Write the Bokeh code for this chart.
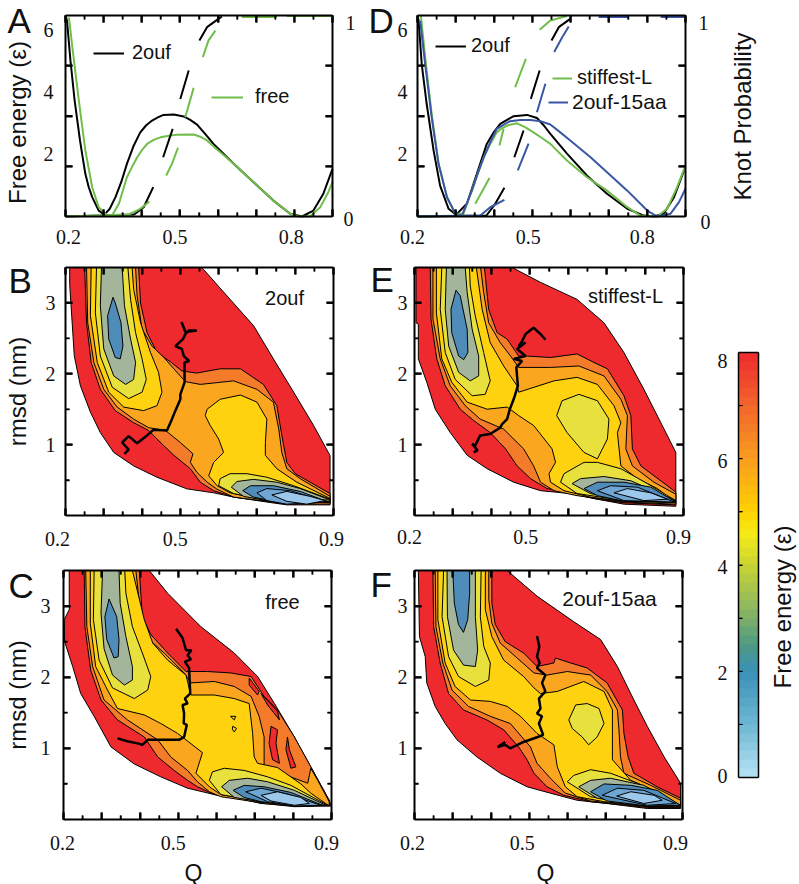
import math
import numpy as np
from bokeh.plotting import figure
from bokeh.models import (Range1d, LinearAxis, FixedTicker, Label, Legend, LegendItem,
                          LinearColorMapper)
from bokeh.layouts import row, column
from bokeh.embed import file_html
from bokeh.resources import INLINE

nan = float("nan")

# ---------- one-dimensional free energy profiles (Q, free energy) ----------
A_2ouf = [(.2,6.45),(.204,6.28),(.213,5.0),(.224,3.72),(.238,2.44),(.245,1.9),(.252,1.37),(.261,.94),(.27,.62),(.287,.19),(.302,.06),(.316,.25),(.331,.62),(.346,1.1),(.361,1.69),(.379,2.28),(.396,2.7),(.411,2.92),(.427,3.08),(.442,3.18),(.457,3.26),(.484,3.27),(.51,3.21),(.527,3.1),(.545,2.95),(.566,2.65),(.588,2.33),(.641,1.69),(.693,1.1),(.745,.51),(.789,.09),(.82,0),(.85,.19),(.876,.73),(.9,1.53)]
A_free = [(.209,6.39),(.217,5.53),(.235,3.72),(.252,2.12),(.27,.94),(.287,.3),(.309,.03),(.322,.03),(.34,.41),(.361,1.26),(.375,1.6),(.388,1.9),(.401,2.14),(.414,2.33),(.431,2.46),(.449,2.54),(.475,2.6),(.492,2.62),(.536,2.63),(.553,2.56),(.571,2.44),(.588,2.25),(.606,2.06),(.641,1.69),(.693,1.1),(.745,.51),(.789,.09),(.811,0),(.841,0),(.868,.3),(.889,.78),(.9,1.1)]
D_2ouf = [(.2,6.44),(.203,6.28),(.211,4.89),(.224,3.61),(.242,2.12),(.259,.99),(.281,.25),(.301,.06),(.329,.41),(.355,1.37),(.368,1.85),(.381,2.33),(.399,2.7),(.416,2.97),(.434,3.1),(.451,3.22),(.486,3.26),(.512,3.16),(.53,2.92),(.547,2.65),(.569,2.33),(.591,2.01),(.643,1.31),(.695,.73),(.748,.25),(.791,.03),(.817,0),(.843,.09),(.87,.62),(.896,1.47)]
D_stiff = [(.209,6.44),(.22,5.11),(.237,3.29),(.255,1.69),(.277,.62),(.299,.09),(.32,.09),(.342,.83),(.357,1.37),(.373,1.9),(.39,2.33),(.407,2.7),(.42,2.83),(.434,2.92),(.46,2.99),(.482,2.86),(.503,2.7),(.525,2.52),(.547,2.33),(.591,1.79),(.643,1.26),(.695,.83),(.748,.3),(.782,.03),(.826,0),(.852,.25),(.878,.94),(.9,1.63)]
D_15aa = [(.207,6.28),(.22,4.89),(.237,3.18),(.255,1.69),(.277,.62),(.299,.09),(.316,.03),(.342,.83),(.357,1.37),(.373,1.9),(.39,2.38),(.407,2.81),(.425,2.95),(.442,3.06),(.468,3.1),(.495,3.1),(.521,3.06),(.547,2.95),(.573,2.7),(.599,2.44),(.652,1.9),(.695,1.42),(.748,.83),(.8,.19),(.826,0),(.861,.09),(.883,.46),(.9,.89)]

# ---------- knot probability (Q, probability); nan marks the gaps of the dashes ----------
A_knot_2ouf = [(.2,0),(.38,.01),(.405,.046),(.43,.146),(nan,nan),(.456,.295),(.481,.436),(nan,nan),(.501,.585),(.523,.726),(nan,nan),(.551,.876),(.571,.942),(.601,.983),(.61,.995)]
A_knot_free = [(.2,0),(.366,.01),(.396,.038),(.42,.075),(nan,nan),(.464,.204),(.479,.262),(.495,.342),(nan,nan),(.514,.494),(.536,.64),(nan,nan),(.56,.793),(.575,.876),(.593,.925),(nan,nan),(.662,.992),(.754,.992),(nan,nan),(.78,.997),(.9,.997)]
D_knot_2ouf = [(.2,0),(.38,.005),(.403,.063),(.427,.143),(nan,nan),(.453,.295),(.477,.428),(nan,nan),(.496,.585),(.519,.726),(nan,nan),(.55,.876),(.569,.942),(.599,.983)]
D_knot_stiff = [(.2,0),(.32,.005),(nan,nan),(.351,.063),(.388,.192),(nan,nan),(.414,.353),(.425,.436),(nan,nan),(.455,.643),(.483,.784),(nan,nan),(.519,.929),(.547,.975),(.59,.997)]
D_knot_15aa = [(.2,0),(.364,.005),(.39,.046),(.427,.083),(nan,nan),(.462,.229),(.49,.362),(nan,nan),(.512,.519),(.534,.66),(nan,nan),(.557,.818),(.578,.892),(.595,.945),(nan,nan),(.673,.992),(.752,.992),(nan,nan),(.835,.992),(.9,.992)]

# ---------- free energy contours (Q, rmsd), outermost level first ----------
B_L1 = [(.211,3.5),(.211,3.26),(.223,2.25),(.239,1.83),(.265,1.46),(.291,1.17),(.326,.89),(.378,.7),(.439,.54),(.517,.376),(.587,.32),(.639,.26),(.726,.19),(.778,.15),(.891,.15),(.891,.845),(.848,1.27),(.796,1.74),(.743,2.21),(.691,2.68),(.63,3.05),(.561,3.47),(.555,3.5)]
B_L2 = [(.25,3.5),(.255,2.72),(.267,2.16),(.291,1.78),(.33,1.48),(.378,1.31),(.417,1.2),(.452,1.01),(.483,.85),(.526,.66),(.552,.47),(.587,.35),(.639,.26),(.726,.2),(.778,.16),(.891,.16),(.891,.31),(.839,.47),(.8,.59),(.778,.75),(.765,1.13),(.752,1.55),(.717,1.85),(.657,2.07),(.604,2.07),(.543,2.01),(.504,2.04),(.474,2.17),(.439,2.3),(.413,2.58),(.396,3.0),(.391,3.5)]
B_L3 = [(.255,3.5),(.258,2.72),(.274,2.16),(.3,1.78),(.335,1.53),(.378,1.36),(.417,1.24),(.461,1.2),(.5,1.03),(.533,.87),(.526,.75),(.543,.61),(.57,.47),(.596,.37),(.639,.26),(.726,.2),(.891,.18),(.891,.27),(.813,.52),(.778,.66),(.765,.89),(.757,1.22),(.743,1.6),(.7,1.78),(.639,1.9),(.552,1.85),(.513,1.89),(.483,2.07),(.457,2.23),(.426,2.39),(.4,2.63),(.387,3.1),(.383,3.5)]
B_L4a = [(.267,3.5),(.265,2.82),(.283,2.16),(.313,1.74),(.352,1.53),(.404,1.48),(.439,1.55),(.452,1.74),(.443,2.02),(.422,2.3),(.396,2.72),(.378,3.19),(.374,3.5)]
B_L4b = [(.57,1.5),(.604,1.64),(.657,1.7),(.7,1.6),(.726,1.36),(.722,1.03),(.722,.85),(.752,.66),(.804,.47),(.891,.24),(.891,.19),(.726,.21),(.63,.32),(.596,.42),(.574,.56),(.587,.75),(.613,.89),(.6,1.08),(.578,1.27),(.565,1.41)]
B_L5a = [(.281,3.5),(.278,2.86),(.291,2.25),(.322,1.81),(.365,1.65),(.4,1.74),(.411,1.92),(.4,2.21),(.383,2.58),(.37,3.05),(.363,3.5)]
B_L5b = [(.6,.42),(.604,.52),(.63,.59),(.674,.59),(.726,.54),(.796,.42),(.891,.23),(.891,.2),(.726,.21),(.639,.31)]
B_L6a = [(.294,3.5),(.291,2.96),(.3,2.35),(.326,1.97),(.357,1.85),(.378,1.92),(.383,2.16),(.37,2.49),(.354,2.96),(.348,3.5)]
B_L6b = [(.633,.4),(.648,.48),(.691,.51),(.752,.47),(.813,.38),(.891,.22),(.726,.21),(.665,.27)]
B_L7a = [(.324,3.08),(.31,2.82),(.313,2.49),(.33,2.23),(.343,2.21),(.35,2.39),(.345,2.72),(.33,3.0)]
B_L7b = [(.663,.35),(.683,.42),(.743,.42),(.813,.34),(.887,.19),(.778,.16),(.691,.26)]
B_L8 = [(.7,.32),(.726,.38),(.787,.35),(.883,.19),(.778,.16),(.726,.21)]
B_L9 = [(.739,.29),(.778,.34),(.839,.27),(.878,.21),(.83,.16),(.778,.2)]
B_path = [(.503,2.73),(.509,2.65),(.513,2.59),(.543,2.61),(.522,2.61),(.513,2.56),(.507,2.49),(.487,2.39),(.504,2.35),(.509,2.25),(.523,2.18),(.511,2.16),(.511,1.88),(.5,1.71),(.5,1.64),(.487,1.48),(.478,1.36),(.465,1.2),(.43,1.21),(.413,1.13),(.387,1.02),(.365,1.12),(.348,1.03),(.365,.93),(.354,.87)]

C_L1 = [(.215,3.5),(.215,2.95),(.202,2.81),(.203,2.5),(.224,2.15),(.245,1.77),(.28,1.45),(.324,1.02),(.385,.78),(.454,.6),(.524,.44),(.594,.35),(.646,.31),(.716,.23),(.803,.18),(.899,.19),(.894,.27),(.846,.74),(.803,1.16),(.751,1.63),(.707,2.01),(.646,2.34),(.559,2.71),(.472,3.18),(.424,3.5)]
C_L2 = [(.254,3.5),(.256,2.71),(.271,2.1),(.298,1.68),(.341,1.4),(.411,1.16),(.446,.88),(.489,.69),(.524,.55),(.55,.46),(.594,.35),(.646,.31),(.716,.225),(.803,.19),(.894,.2),(.894,.27),(.846,.74),(.803,1.16),(.759,1.54),(.724,1.73),(.69,2.01),(.637,2.06),(.576,2.08),(.52,2.08),(.472,2.34),(.428,2.6),(.406,2.85),(.398,3.5)]
C_L3 = [(.258,3.5),(.261,2.71),(.276,2.15),(.306,1.68),(.367,1.4),(.446,1.12),(.48,.88),(.524,.69),(.55,.53),(.581,.39),(.611,.32),(.716,.235),(.894,.2),(.894,.25),(.864,.55),(.846,.72),(.838,.51),(.768,.65),(.724,.74),(.724,1.16),(.711,1.45),(.69,1.73),(.646,1.87),(.594,1.94),(.533,1.92),(.515,2.06),(.463,2.34),(.424,2.53),(.402,2.85),(.389,3.5)]
C_L4 = [(.27,3.5),(.27,2.76),(.284,2.15),(.315,1.82),(.341,1.56),(.411,1.47),(.454,1.35),(.498,1.21),(.515,1.14),(.563,.94),(.546,.65),(.581,.46),(.611,.35),(.716,.25),(.894,.19),(.846,.37),(.82,.5),(.759,.73),(.707,.79),(.698,.88),(.694,1.21),(.685,1.63),(.646,1.7),(.594,1.75),(.533,1.75),(.528,1.85),(.52,2.03),(.472,2.24),(.433,2.48),(.411,2.81),(.38,3.5)]
C_L5a = [(.28,3.5),(.278,2.81),(.293,2.24),(.328,1.85),(.385,1.7),(.42,1.82),(.428,2.01),(.406,2.34),(.38,2.71),(.363,3.18),(.36,3.5)]
C_L5b = [(.581,.55),(.589,.67),(.62,.72),(.672,.69),(.733,.6),(.794,.48),(.89,.2),(.716,.25),(.611,.35)]
C_L6a = [(.302,3.5),(.298,2.9),(.306,2.4),(.328,2.03),(.359,1.89),(.38,1.96),(.38,2.15),(.363,2.57),(.348,3.04),(.345,3.5)]
C_L6b = [(.613,.46),(.633,.55),(.681,.58),(.733,.53),(.803,.41),(.886,.2),(.716,.25),(.646,.31)]
C_L7a = [(.319,3.1),(.308,2.85),(.313,2.53),(.332,2.27),(.343,2.29),(.345,2.53),(.339,2.85)]
C_L7b = [(.643,.41),(.672,.48),(.724,.46),(.794,.38),(.877,.2),(.803,.19),(.716,.25),(.672,.31)]
C_L8 = [(.676,.39),(.716,.44),(.785,.36),(.872,.2),(.803,.19),(.733,.25)]
C_L9 = [(.716,.34),(.759,.39),(.82,.31),(.842,.225),(.803,.2),(.742,.26)]
C_high1 = [(.685,1.99),(.711,1.8),(.707,1.75),(.685,1.89)]
C_high2 = [(.716,1.77),(.759,1.52),(.764,1.4),(.733,1.61)]
C_high3 = [(.742,1.31),(.759,1.26),(.755,1.07),(.764,.79),(.746,.84),(.737,1.07)]
C_high4 = [(.785,1.16),(.79,.98),(.807,.74),(.794,.72),(.781,.98)]
C_spot1 = [(.636,1.45),(.65,1.45),(.646,1.4)]
C_spot2 = [(.642,1.31),(.652,1.28),(.646,1.23),(.641,1.27)]
C_path = [(.494,2.68),(.511,2.55),(.52,2.38),(.534,2.38),(.524,2.31),(.533,2.25),(.517,2.22),(.528,2.13),(.531,1.77),(.517,1.7),(.524,1.63),(.511,1.61),(.515,1.49),(.514,1.35),(.522,1.33),(.515,1.16),(.502,1.12),(.42,1.12),(.406,1.05),(.393,1.07),(.367,1.1),(.341,1.14)]

E_L1 = [(.204,3.5),(.204,2.72),(.21,2.7),(.21,2.21),(.232,1.88),(.254,1.5),(.293,1.17),(.337,.85),(.389,.66),(.458,.47),(.528,.35),(.606,.31),(.676,.23),(.745,.16),(.88,.13),(.88,.89),(.841,1.31),(.797,1.78),(.745,2.3),(.693,2.72),(.623,3.05),(.528,3.29),(.454,3.5)]
E_L2 = [(.241,3.5),(.243,2.77),(.258,2.21),(.28,1.83),(.319,1.5),(.354,1.34),(.397,1.17),(.437,.94),(.467,.7),(.502,.52),(.545,.38),(.606,.31),(.676,.23),(.745,.18),(.88,.15),(.88,.33),(.789,.7),(.767,.94),(.763,1.41),(.745,1.69),(.702,2.07),(.667,2.16),(.623,2.28),(.554,2.23),(.493,2.25),(.471,2.25),(.441,2.49),(.415,2.58),(.393,2.91),(.382,3.5)]
E_L3 = [(.248,3.5),(.248,2.77),(.267,2.21),(.293,1.83),(.332,1.55),(.371,1.36),(.432,1.22),(.484,.94),(.51,.7),(.528,.47),(.563,.35),(.623,.28),(.745,.19),(.88,.16),(.88,.3),(.823,.47),(.767,.7),(.75,.94),(.754,1.41),(.737,1.64),(.693,1.97),(.628,2.11),(.554,2.09),(.471,2.09),(.45,2.25),(.423,2.44),(.393,2.72),(.38,3.15),(.372,3.5)]
E_L4 = [(.257,3.5),(.257,2.86),(.271,2.21),(.297,1.88),(.337,1.6),(.389,1.5),(.441,1.53),(.471,1.41),(.51,1.27),(.558,.94),(.567,.75),(.55,.59),(.554,.47),(.589,.35),(.658,.26),(.745,.2),(.88,.18),(.832,.38),(.78,.52),(.737,.7),(.728,1.17),(.737,1.31),(.719,1.55),(.676,1.85),(.623,1.95),(.563,1.9),(.471,1.74),(.467,1.83),(.432,2.11),(.397,2.44),(.376,2.91),(.361,3.5)]
E_L5a = [(.271,3.5),(.267,2.91),(.28,2.3),(.306,1.92),(.35,1.69),(.384,1.71),(.397,1.9),(.38,2.3),(.358,2.82),(.345,3.24),(.343,3.5)]
E_L5b = [(.57,1.41),(.584,1.62),(.628,1.71),(.676,1.62),(.706,1.36),(.702,1.08),(.676,.8),(.641,.89),(.597,1.17)]
E_L5c = [(.58,.47),(.589,.59),(.641,.75),(.676,.75),(.737,.66),(.806,.45),(.88,.21),(.745,.21),(.623,.31)]
E_L6a = [(.283,3.5),(.28,2.91),(.289,2.39),(.315,2.02),(.345,1.9),(.367,1.97),(.367,2.25),(.35,2.63),(.337,3.15),(.332,3.5)]
E_L6b = [(.61,.45),(.632,.52),(.693,.55),(.763,.49),(.88,.21),(.745,.21),(.658,.31)]
E_L7a = [(.308,3.18),(.295,2.91),(.297,2.58),(.315,2.25),(.328,2.2),(.339,2.3),(.337,2.63),(.319,3.1)]
E_L7b = [(.641,.38),(.676,.47),(.745,.47),(.815,.4),(.88,.19),(.745,.2),(.676,.28)]
E_L8 = [(.676,.35),(.71,.42),(.78,.4),(.876,.19),(.745,.21)]
E_L9 = [(.719,.32),(.754,.38),(.815,.32),(.858,.23),(.797,.21)]
E_path = [(.541,2.48),(.528,2.56),(.51,2.65),(.489,2.56),(.48,2.46),(.471,2.39),(.489,2.44),(.467,2.35),(.489,2.25),(.458,2.21),(.48,2.18),(.465,2.09),(.469,1.83),(.458,1.64),(.448,1.5),(.441,1.36),(.428,1.29),(.423,1.24),(.397,1.15),(.371,1.13),(.358,.99),(.35,1.01),(.364,.92),(.354,.89)]

F_L1 = [(.21,3.5),(.213,2.57),(.228,2.29),(.232,1.92),(.254,1.59),(.28,1.35),(.311,1.12),(.363,.88),(.424,.65),(.494,.46),(.555,.37),(.625,.27),(.695,.23),(.808,.155),(.895,.155),(.895,.51),(.852,.88),(.808,1.31),(.773,1.68),(.73,2.15),(.686,2.53),(.616,2.78),(.52,3.14),(.442,3.5)]
F_L2 = [(.248,3.5),(.25,2.71),(.267,2.2),(.289,1.77),(.328,1.54),(.389,1.4),(.433,1.26),(.472,1.02),(.494,.84),(.512,.65),(.546,.46),(.59,.34),(.66,.25),(.808,.17),(.895,.17),(.895,.3),(.834,.46),(.773,.65),(.758,.88),(.747,1.21),(.743,1.54),(.703,1.92),(.651,2.13),(.608,2.2),(.568,2.27),(.564,2.2),(.52,2.15),(.485,2.34),(.437,2.5),(.411,2.74),(.402,3.04),(.402,3.5)]
F_L3 = [(.254,3.5),(.256,2.71),(.274,2.2),(.298,1.82),(.341,1.59),(.398,1.45),(.45,1.35),(.503,1.02),(.52,.79),(.555,.58),(.594,.37),(.66,.26),(.808,.18),(.895,.18),(.895,.27),(.817,.48),(.747,.65),(.738,.88),(.734,1.26),(.73,1.54),(.703,1.8),(.66,2.03),(.599,2.08),(.546,2.03),(.512,2.06),(.468,2.27),(.424,2.48),(.402,2.76),(.394,3.09),(.394,3.5)]
F_L4 = [(.261,3.5),(.261,2.81),(.28,2.2),(.306,1.87),(.346,1.68),(.398,1.66),(.442,1.59),(.477,1.45),(.52,1.21),(.564,1.05),(.573,.74),(.594,.46),(.625,.32),(.695,.25),(.808,.19),(.895,.19),(.834,.39),(.765,.55),(.717,.84),(.717,1.26),(.717,1.54),(.695,1.8),(.642,1.94),(.573,1.8),(.529,1.77),(.512,1.85),(.485,2.01),(.433,2.24),(.402,2.57),(.385,2.95),(.385,3.5)]
F_L5a = [(.276,3.5),(.272,2.85),(.289,2.29),(.315,2.01),(.359,1.87),(.394,1.96),(.398,2.2),(.381,2.43),(.372,2.85),(.374,3.5)]
F_L5b = [(.603,1.4),(.621,1.61),(.651,1.63),(.682,1.56),(.695,1.35),(.677,1.16),(.655,1.05),(.638,1.16),(.612,1.28)]
F_L5c = [(.599,.53),(.616,.62),(.66,.7),(.712,.65),(.782,.51),(.895,.2),(.808,.19),(.66,.32)]
F_L6a = [(.285,3.5),(.286,2.85),(.302,2.38),(.328,2.17),(.359,2.15),(.365,2.38),(.359,2.85),(.359,3.5)]
F_L6b = [(.629,.46),(.66,.55),(.712,.58),(.799,.48),(.895,.2),(.808,.19),(.677,.3)]
F_L7a = [(.3,3.5),(.304,3.04),(.315,2.74),(.328,2.63),(.339,2.81),(.344,3.18),(.344,3.5)]
F_L7b = [(.66,.39),(.695,.5),(.765,.48),(.834,.41),(.894,.2),(.808,.19),(.703,.26)]
F_L8 = [(.69,.34),(.73,.44),(.799,.41),(.882,.225),(.808,.2)]
F_L9 = [(.728,.33),(.765,.39),(.826,.34),(.847,.27),(.799,.225)]
F_path = [(.52,2.58),(.526,2.43),(.52,2.29),(.527,2.2),(.52,2.13),(.542,2.03),(.533,1.92),(.542,1.8),(.525,1.7),(.529,1.56),(.52,1.49),(.533,1.45),(.525,1.35),(.536,1.19),(.522,1.16),(.485,1.09),(.45,1.0),(.437,1.05),(.417,1.02),(.437,1.09)]

# ---------- colours ----------
BLACK = "#000000"; GREEN = "#6FBE4A"; BLUE = "#3A57A5"
L1 = "#EE2A2E"; L2 = "#F47B2A"; L3 = "#FAA61E"; L4 = "#FFD20F"; L5 = "#E8E03C"
L6 = "#A3B69B"; L7 = "#4F8CB9"; L8 = "#6FA6D4"; L9 = "#9CC8EC"
BAR_STOPS = [(0,"#B6E3F4"),(1,"#6DB7D2"),(2,"#3A90B8"),(2.5,"#4E9A82"),(3,"#7FB069"),(4,"#C9D433"),
             (4.6,"#F6EB16"),(5,"#FFD200"),(6,"#F99D1F"),(7,"#F2652B"),(8,"#EE2A2E")]

SERIF = "Liberation Serif"; SANS = "Liberation Sans"
QT_MAJOR = [.2,.3,.4,.5,.6,.7,.8,.9]
QT_MINOR = [.25,.35,.45,.55,.65,.75,.85]


def widen(lo, hi, before, inner, after):
    """Range that shows [lo, hi] across `inner` pixels with margins of `before`/`after` pixels."""
    unit = (hi - lo) / inner
    return Range1d(lo - before * unit, hi + after * unit)


def inward(p, side, at, values, length, width, y_range_name=None):
    """Inner tick marks along one panel edge, with their length given in pixels."""
    vals = list(values)
    if not vals:
        return
    xu = (p.x_range.end - p.x_range.start) / p.width
    yu = (p.y_range.end - p.y_range.start) / p.height
    kw = {"y_range_name": y_range_name} if y_range_name else {}
    if side in ("left", "right"):
        sign = 1 if side == "left" else -1
        p.segment(x0=[at] * len(vals), y0=vals, x1=[at + sign * length * xu] * len(vals), y1=vals,
                  line_color=BLACK, line_width=width, **kw)
    else:
        sign = 1 if side == "below" else -1
        p.segment(x0=vals, y0=[at] * len(vals), x1=vals, y1=[at + sign * length * yu] * len(vals),
                  line_color=BLACK, line_width=width)


def edge(p, side, at, bounds, ticker, y_range_name=None, rule=2, major=(7, 2), minor=(4, 1.5)):
    """An axis pinned to one edge of the panel; it takes no layout space."""
    kw = {"y_range_name": y_range_name} if y_range_name else {}
    ax = LinearAxis(fixed_location=at, bounds=bounds, ticker=ticker, **kw)
    ax.axis_line_width = rule; ax.axis_line_color = BLACK
    ax.major_tick_line_color = BLACK; ax.minor_tick_line_color = BLACK
    ax.major_tick_line_width = major[1]; ax.minor_tick_line_width = minor[1]
    ax.major_tick_in = major[0]; ax.major_tick_out = 0
    ax.minor_tick_in = minor[0]; ax.minor_tick_out = 0
    ax.major_label_text_font_size = "0px"; ax.major_label_standoff = 0
    ax.major_label_text_color = None
    p.add_layout(ax, side)
    inward(p, side, at, ticker.ticks, major[0], major[1], y_range_name)
    inward(p, side, at, ticker.minor_ticks, minor[0], minor[1], y_range_name)
    return ax


def base(w, h, left, right, top, bottom, xr, yr):
    p = figure(width=w, height=h, min_border_left=0, min_border_right=0,
               min_border_top=0, min_border_bottom=0,
               x_range=widen(xr[0], xr[1], left, w - left - right, right),
               y_range=widen(yr[0], yr[1], bottom, h - top - bottom, top),
               x_axis_location=None, y_axis_location=None,
               toolbar_location=None, output_backend="svg", tools="")
    p.grid.visible = False
    p.outline_line_color = None
    p.background_fill_color = "white"; p.border_fill_color = "white"
    return p


def note(p, text, x, y, dx=0, dy=0, size=20, font=SANS, align="center", baseline="middle", angle=0):
    p.add_layout(Label(x=x, y=y, x_offset=dx, y_offset=dy, text=text, text_font=font,
                       text_font_size=f"{size}px", text_align=align, text_baseline=baseline,
                       angle=angle, text_color="#111111"))


def x_frame(p, yr, labels):
    ticker = FixedTicker(ticks=QT_MAJOR, minor_ticks=QT_MINOR)
    edge(p, "below", yr[0], (.2, .9), ticker)
    edge(p, "above", yr[1], (.2, .9), ticker)
    for q, dx, dy in labels:
        note(p, f"{q:.1f}", q, yr[0], dx=dx, dy=dy, font=SERIF)


def y_text(p, ticks, gap):
    for t in ticks:
        note(p, str(t), .2, t, dx=-gap, font=SERIF, align="right")


def line(p, pts, color, width=2, **kw):
    return p.line([a for a, _ in pts], [b for _, b in pts], line_color=color, line_width=width, **kw)


def profile(w, left, right, curves, knots, xlabels, gap, legends):
    top, bottom, h = 15, 34, 250
    yr = (0, 6.45)
    p = base(w, h, left, right, top, bottom, (.2, .9), yr)
    p.extra_y_ranges = {"prob": widen(0, 1, bottom, h - top - bottom, top)}
    rend = [line(p, c, col) for c, col in curves]
    for k, col in knots:
        line(p, k, col, y_range_name="prob")
    ticks = FixedTicker(ticks=[.25, .5, .75], minor_ticks=[])
    edge(p, "left", .2, (0, 1), ticks, "prob")
    edge(p, "right", .9, (0, 1), ticks, "prob")
    x_frame(p, yr, xlabels)
    y_text(p, [2, 4, 6], gap)
    for r, (lab, loc, gw, st, fs) in zip(rend, legends):
        p.add_layout(Legend(items=[LegendItem(label=lab, renderers=[r])],
                            location=(loc[0] + left, loc[1] + bottom),
                            background_fill_alpha=0, border_line_color=None, padding=0, margin=0,
                            spacing=0, glyph_width=gw, glyph_height=20, label_standoff=st,
                            label_text_font=SANS, label_text_font_size=f"{fs}px",
                            label_text_color="#111111"))
    return p


def landscape(w, h, left, right, top, bottom, polygons, path, xlabels, gap):
    yr = (0, 3.5)
    p = base(w, h, left, right, top, bottom, (.2, .9), yr)
    p.patches([[a for a, _ in pg] for pg, _ in polygons], [[b for _, b in pg] for pg, _ in polygons],
              fill_color=[c for _, c in polygons], line_color=BLACK, line_width=1)
    line(p, path, BLACK, width=2.5)
    ticks = FixedTicker(ticks=[1, 2, 3], minor_ticks=[.5, 1.5, 2.5])
    edge(p, "left", .2, yr, ticks)
    edge(p, "right", .9, yr, ticks)
    x_frame(p, yr, xlabels)
    y_text(p, [1, 2, 3], gap)
    return p


# ---------- panels ----------
pA = profile(360, 65, 28, [(A_2ouf, BLACK), (A_free, GREEN)],
             [(A_knot_2ouf, BLACK), (A_knot_free, GREEN)],
             [(.2, 3, -20), (.5, -5, -20), (.8, -3, -20)], 12,
             [("2ouf", (28, 152), 31, 8, 20), ("free", (146, 108), 32, 12, 20)])
pD = profile(431, 57, 106, [(D_2ouf, BLACK), (D_stiff, GREEN), (D_15aa, BLUE)],
             [(D_knot_2ouf, BLACK), (D_knot_stiff, GREEN), (D_knot_15aa, BLUE)],
             [(.2, -5, -20), (.5, -4, -20), (.8, -5, -20)], 10,
             [("2ouf", (18, 159), 31, 5, 20), ("stiffest-L", (135, 127), 20, 5, 20),
              ("2ouf-15aa", (131, 102), 20, 4, 21)])

pB = landscape(360, 305, 65, 27, 17, 40,
               [(B_L1, L1), (B_L2, L2), (B_L3, L3), (B_L4a, L4), (B_L4b, L4), (B_L5a, L5), (B_L5b, L5),
                (B_L6a, L6), (B_L6b, L6), (B_L7a, L7), (B_L7b, L7), (B_L8, L8), (B_L9, L9)],
               B_path, [(.2, -8, -23), (.5, -5, -23), (.9, -2, -23)], 10)
pC = landscape(360, 329, 63, 29, 15, 65,
               [(C_L1, L1), (C_L2, L2), (C_L3, L3), (C_L4, L4), (C_L5a, L5), (C_L5b, L5),
                (C_L6a, L6), (C_L6b, L6), (C_L7a, L7), (C_L7b, L7), (C_L8, L8), (C_L9, L9),
                (C_high1, L1), (C_high2, L1), (C_high3, L1), (C_high4, L1), (C_spot1, L4), (C_spot2, L4)],
               C_path, [(.2, -1, -23), (.5, -5, -23), (.9, -5, -23)], 13)
pE = landscape(340, 305, 54, 17, 17, 40,
               [(E_L1, L1), (E_L2, L2), (E_L3, L3), (E_L4, L4), (E_L5a, L5), (E_L5b, L5), (E_L5c, L5),
                (E_L6a, L6), (E_L6b, L6), (E_L7a, L7), (E_L7b, L7), (E_L8, L8), (E_L9, L9)],
               E_path, [(.2, -5, -21), (.5, -4, -21), (.9, -5, -21)], 7)
pF = landscape(340, 329, 54, 18, 15, 65,
               [(F_L1, L1), (F_L2, L2), (F_L3, L3), (F_L4, L4), (F_L5a, L5), (F_L5b, L5), (F_L5c, L5),
                (F_L6a, L6), (F_L6b, L6), (F_L7a, L7), (F_L7b, L7), (F_L8, L8), (F_L9, L9)],
               F_path, [(.2, -2, -23), (.5, -7, -23), (.9, -7, -23)], 7)

# panel letters
for p, ytop, letter, dx, dy in [(pA, 6.45, "A", -58, -5), (pD, 6.45, "D", -49, -5), (pB, 3.5, "B", -57, -13),
                                (pC, 3.5, "C", -55, -15), (pE, 3.5, "E", -44, -12), (pF, 3.5, "F", -44, -14)]:
    note(p, letter, .2, ytop, dx=dx, dy=dy, size=35, align="left")

# in-panel names
note(pB, "2ouf", .9, 3.5, dx=-49, dy=-30)
note(pC, "free", .9, 3.5, dx=-49, dy=-31)
note(pE, "stiffest-L", .9, 3.5, dx=-58, dy=-28)
note(pF, "2ouf-15aa", .9, 3.5, dx=-73, dy=-28, size=21)

# axis titles
UP = math.pi / 2
note(pA, "Free energy (ε)", .2, 0, dx=-48, dy=94, size=24, angle=UP)
note(pB, "rmsd (nm)", .2, 1.75, dx=-48, size=24, angle=UP)
note(pC, "rmsd (nm)", .2, 1.75, dx=-46, size=24, angle=UP)
note(pC, "Q", .55, 0, dx=-4, dy=-53, size=23)
note(pF, "Q", .55, 0, dx=-3, dy=-53, size=23)
note(pD, "Knot Probability", .9, 0, dx=57, dy=100, size=24, angle=UP)

# knot probability scale labels
note(pA, "1", .9, 6.45, dx=18, dy=-7, font=SERIF)
note(pA, "0", .9, 0, dx=16, dy=-2, font=SERIF)
note(pD, "1", .9, 6.45, dx=18, dy=-7, font=SERIF)
note(pD, "0", .9, 0, dx=20, dy=-5, font=SERIF)

# ---------- colour bar ----------
bar_levels = np.linspace(0, 8, 49)
stop_v = [s[0] for s in BAR_STOPS]
stop_rgb = np.array([[int(s[1][i:i + 2], 16) for i in (1, 3, 5)] for s in BAR_STOPS])
bar_palette = ["#%02X%02X%02X" % tuple(int(round(np.interp(v, stop_v, stop_rgb[:, c]))) for c in range(3))
               for v in bar_levels[:-1] + 1 / 12]
mapper = LinearColorMapper(palette=bar_palette, low=0, high=8)
pBar = base(99, 634, 38, 41, 102, 107, (0, 1), (0, 8))
pBar.image(image=[bar_levels[:-1].reshape(-1, 1) + 1 / 12], x=0, y=0, dw=1, dh=8, color_mapper=mapper)
no_ticks = FixedTicker(ticks=[], minor_ticks=[])
bar_ticks = FixedTicker(ticks=[1, 2, 3, 4, 5, 6, 7], minor_ticks=[])
for side, at, bounds, tk in [("left", 0, (0, 8), bar_ticks), ("right", 1, (0, 8), no_ticks),
                             ("below", 0, (0, 1), no_ticks), ("above", 8, (0, 1), no_ticks)]:
    edge(pBar, side, at, bounds, tk, rule=1.5, major=(4, 1))
for v, dy in [(8, -8), (6, -2), (4, -2), (2, -2), (0, 2)]:
    note(pBar, str(v), 0, v, dx=-16, dy=dy, font=SERIF, size=20)
note(pBar, "Free energy (ε)", 1, 4, dx=24, dy=-42, size=24, angle=UP)

layout = column(row(pA, pD, spacing=0),
                row(column(pB, pC, spacing=0), column(pE, pF, spacing=0), pBar, spacing=0),
                spacing=0)
open("out.html", "w").write(file_html(layout, INLINE))
